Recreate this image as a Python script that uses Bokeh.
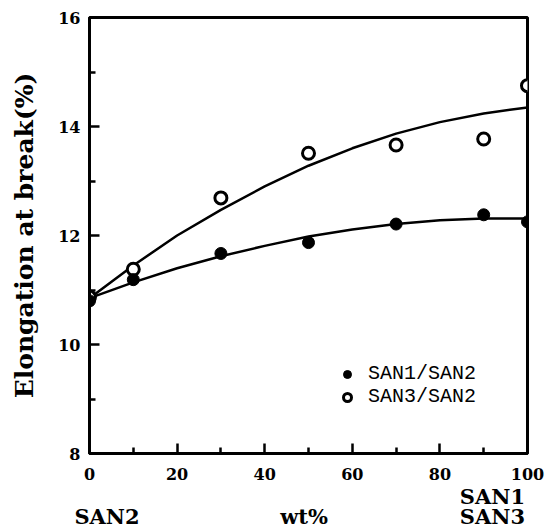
from bokeh.plotting import figure
from bokeh.models import Range1d, Legend, LegendItem, FixedTicker, LinearAxis
from bokeh.embed import file_html
from bokeh.resources import INLINE

# measured points
wt = [0, 10, 30, 50, 70, 90, 100]
san1_san2 = [10.80, 11.19, 11.67, 11.87, 12.21, 12.38, 12.25]
san3_san2 = [10.87, 11.38, 12.69, 13.51, 13.66, 13.77, 14.75]

# fitted curves
curve_x = [0, 10, 20, 30, 40, 50, 60, 70, 80, 90, 100]
curve_san1 = [10.85, 11.14, 11.40, 11.62, 11.81, 11.98, 12.11, 12.21, 12.28, 12.31, 12.31]
curve_san3 = [10.85, 11.45, 12.00, 12.47, 12.90, 13.28, 13.60, 13.87, 14.08, 14.24, 14.35]

x_major = [0, 20, 40, 60, 80, 100]
x_minor = [10, 30, 50, 70, 90]
y_major = [8, 10, 12, 14, 16]
y_minor = [9, 11, 13, 15]

# texts under the x axis (placed at x-axis positions)
upper_row = {92: "SAN1"}
lower_row = {4: "SAN2", 49: "wt%", 92: "SAN3"}

p = figure(width=546, height=531, output_backend="svg", toolbar_location=None,
           x_range=Range1d(0, 100), y_range=Range1d(8, 16),
           min_border_left=89, min_border_right=19, min_border_top=17, min_border_bottom=78)
p.background_fill_color = "white"
p.border_fill_color = "white"
p.outline_line_color = "black"
p.outline_line_width = 3
p.xgrid.visible = False
p.ygrid.visible = False

for ax in (p.xaxis[0], p.yaxis[0]):
    ax.axis_line_width = 3
    ax.major_tick_in = 10
    ax.major_tick_out = 0
    ax.minor_tick_in = 6
    ax.minor_tick_out = 0
    ax.major_tick_line_width = 2.5
    ax.minor_tick_line_width = 2.5
    ax.major_label_text_font = "DejaVu Serif"
    ax.major_label_text_font_style = "bold"
    ax.major_label_text_font_size = "16px"
    ax.major_label_text_color = "black"

p.xaxis[0].ticker = FixedTicker(ticks=x_major, minor_ticks=x_minor)
p.yaxis[0].ticker = FixedTicker(ticks=y_major, minor_ticks=y_minor)
p.xaxis[0].major_label_standoff = 14
p.yaxis[0].major_label_standoff = 9

p.yaxis[0].axis_label = "Elongation at break(%)"
p.yaxis[0].axis_label_text_font = "DejaVu Serif"
p.yaxis[0].axis_label_text_font_style = "bold"
p.yaxis[0].axis_label_text_font_size = "25px"
p.yaxis[0].axis_label_text_color = "black"
p.yaxis[0].axis_label_standoff = 16


def text_axis(labels, standoff):
    ax = LinearAxis(ticker=FixedTicker(ticks=list(labels.keys()), minor_ticks=[]),
                    major_label_overrides=labels,
                    axis_line_color=None, major_tick_line_color=None,
                    minor_tick_line_color=None,
                    major_tick_in=0, major_tick_out=0, minor_tick_in=0, minor_tick_out=0,
                    major_label_standoff=standoff,
                    major_label_text_font="DejaVu Serif",
                    major_label_text_font_style="bold",
                    major_label_text_font_size="21px",
                    major_label_text_color="black")
    return ax


p.add_layout(text_axis(upper_row, 1), "below")
p.add_layout(text_axis(lower_row, -8), "below")

p.line(curve_x, curve_san3, line_color="black", line_width=2.5)
p.line(curve_x, curve_san1, line_color="black", line_width=2.5)

r3 = p.scatter(wt, san3_san2, marker="circle", size=12, fill_color="white",
               line_color="black", line_width=3)
r1 = p.scatter(wt, san1_san2, marker="circle", size=12, fill_color="black",
               line_color="black", line_width=1)

legend = Legend(items=[LegendItem(label="SAN1/SAN2", renderers=[r1]),
                       LegendItem(label="SAN3/SAN2", renderers=[r3])],
                location=(248, 45), orientation="vertical",
                border_line_alpha=0, background_fill_alpha=0,
                padding=0, margin=0, spacing=0,
                glyph_width=20, glyph_height=20, label_height=20, label_standoff=11,
                label_text_font="Liberation Mono", label_text_font_size="20px",
                label_text_color="black")
p.add_layout(legend)

open("out.html", "w").write(file_html(p, INLINE))
